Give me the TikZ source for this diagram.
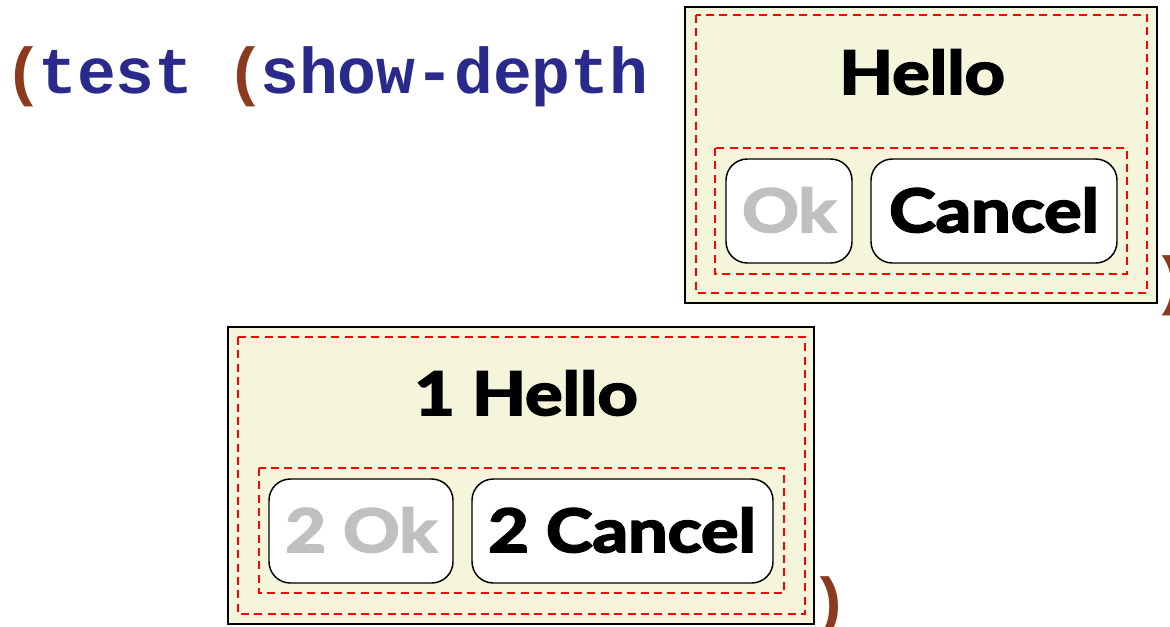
\documentclass[tikz,border=0pt]{standalone}
\usepackage{fontspec}
\newfontfamily\gill{Lato}[FakeBold=3]
\newfontfamily\code{Liberation Mono}
\definecolor{codeblue}{HTML}{2A2A8C}
\definecolor{parenbrown}{HTML}{8B3A1E}
\definecolor{panel}{HTML}{F5F5DC}
\definecolor{dimtext}{HTML}{C0C0C0}
\newcommand{\wide}[1]{\scalebox{1.17}[1]{#1}}
\tikzset{
  codetxt/.style={anchor=base, inner sep=0pt, font=\code\bfseries\fontsize{48.5}{48}\selectfont, text=codeblue},
  paren/.style={anchor=base, inner sep=0pt, font=\code\bfseries\fontsize{48.5}{48}\selectfont, text=parenbrown},
  panelbox/.style={draw=black, fill=panel, line width=1.5pt},
  dashbox/.style={draw=red, line width=1.1pt, dash pattern=on 6pt off 4pt},
  btn/.style={draw=black, fill=white, line width=1.1pt, rounded corners=16pt},
  lbl/.style={anchor=base, inner sep=0pt, font=\gill\bfseries\fontsize{45}{45}\selectfont},
}
\begin{document}
\begin{tikzpicture}[x=0.75pt,y=-0.75pt]
\useasboundingbox (0,0) rectangle (1170,626);
% code text
\node[paren] (p1) at (24,93) {(};
\node[codetxt, anchor=base west] (t1) at (38,93) {test};
\node[paren] (p2) at (246,93) {(};
\node[codetxt, anchor=base west] (t2) at (260,93) {show-depth};
% top panel
\draw[panelbox] (685,7) rectangle (1157,303);
\draw[dashbox] (696,15) rectangle (1147,293);
\draw[dashbox] (715,148) rectangle (1127,274);
\draw[btn] (726,159) rectangle (852,263);
\draw[btn] (871,159) rectangle (1117,263);
\node[lbl] (h1) at (922,94) {\wide{Hello}};
\node[lbl, text=dimtext] (ok1) at (789,232) {\wide{Ok}};
\node[lbl] (c1) at (994,232) {\wide{Cancel}};
\node[paren] (p3) at (1172,302) {)};
% bottom panel
\draw[panelbox] (228,327) rectangle (814,624);
\draw[dashbox] (238,337) rectangle (805,614);
\draw[dashbox] (259,468) rectangle (784,593);
\draw[btn] (269,479) rectangle (453,583);
\draw[btn] (472,479) rectangle (773,583);
\node[lbl] (h2) at (526,415) {\wide{1 Hello}};
\node[lbl, text=dimtext] (ok2) at (361,552) {\wide{2 Ok}};
\node[lbl] (c2) at (622,552) {\wide{2 Cancel}};
\node[paren] (p4) at (830,623) {)};
\end{tikzpicture}
\end{document}
